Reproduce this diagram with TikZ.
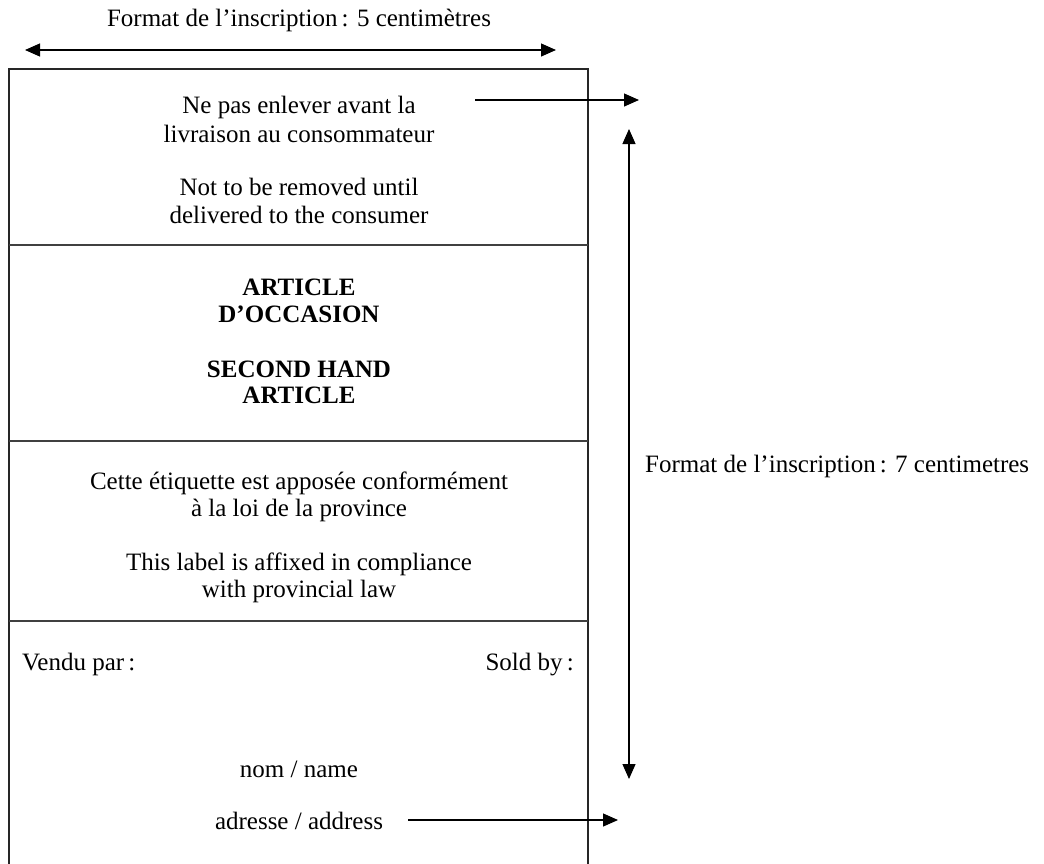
\documentclass[tikz,border=0pt]{standalone}
\usepackage{fontspec}
\setmainfont{Liberation Serif}
\usetikzlibrary{arrows.meta}
\begin{document}
\begin{tikzpicture}[x=1pt,y=-1pt,
  txt/.style={inner sep=0pt, anchor=base, font=\fontsize{25}{30}\selectfont},
  btxt/.style={txt, font=\fontsize{25}{30}\selectfont\bfseries},
  frame/.style={line width=1.2pt, draw=black!85},
  sep/.style={line width=1.1pt, draw=black!75},
  dimarrow/.style={line width=1.2pt, {Triangle[length=15pt,width=13pt]}-{Triangle[length=15pt,width=13pt]}},
  onearrow/.style={line width=1.2pt, -{Triangle[length=15pt,width=13pt]}}]
\useasboundingbox (0,0) rectangle (1044,863);
% frame of the label
\draw[frame] (9,870) -- (9,69) -- (588,69) -- (588,870);
\draw[sep] (9,245) -- (588,245);
\draw[sep] (9,441) -- (588,441);
\draw[sep] (9,621) -- (588,621);
% header
\node[txt] (hdr) at (299,26) {Format de l’inscription\,: 5 centimètres};
\coordinate (wL) at (25,50);
\coordinate (wR) at (556,50);
\draw[dimarrow] (wL) -- (wR);
% block 1
\node[txt] (a1) at (299,113) {Ne pas enlever avant la};
\node[txt] (a2) at (299,142) {livraison au consommateur};
\node[txt] (a3) at (299,195) {Not to be removed until};
\node[txt] (a4) at (299,223) {delivered to the consumer};
% block 2
\node[btxt] (b1) at (299,295) {ARTICLE};
\node[btxt] (b2) at (299,322) {D’OCCASION};
\node[btxt] (b3) at (299,377) {SECOND HAND};
\node[btxt] (b4) at (299,403) {ARTICLE};
% block 3
\node[txt] (c1) at (299,489) {Cette étiquette est apposée conformément};
\node[txt] (c2) at (299,516) {à la loi de la province};
\node[txt] (c3) at (299,570) {This label is affixed in compliance};
\node[txt] (c4) at (299,597) {with provincial law};
% block 4
\node[txt, anchor=base west] (v1) at (22,670) {Vendu par\,:};
\node[txt, anchor=base east] (v2) at (574,670) {Sold by\,:};
\node[txt] (n1) at (299,777) {nom / name};
\node[txt] (n2) at (299,829) {adresse / address};
% right dimension
\node[txt, anchor=base west] (vlab) at (645,472) {Format de l’inscription\,: 7 centimetres};
\coordinate (hT) at (629,129);
\coordinate (hB) at (629,779);
\draw[dimarrow] (hT) -- (hB);
% pointer arrows
\coordinate (p1s) at (475,100);
\coordinate (p1e) at (639,100);
\draw[onearrow] (p1s) -- (p1e);
\coordinate (p2s) at (408,820);
\coordinate (p2e) at (618,820);
\draw[onearrow] (p2s) -- (p2e);
\end{tikzpicture}
\end{document}
